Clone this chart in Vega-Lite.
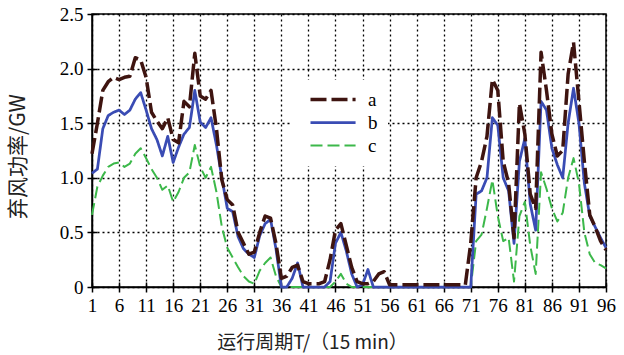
{
  "$schema": "https://vega.github.io/schema/vega-lite/v6.json",
  "width": 514,
  "height": 273,
  "autosize": {"type": "none"},
  "padding": {"left": 92, "top": 14, "right": 18, "bottom": 68},
  "background": "white",
  "config": {
    "view": {"stroke": "black", "strokeWidth": 1.5},
    "axis": {
      "labelFont": "Liberation Serif",
      "labelFontSize": 19,
      "labelColor": "black",
      "tickColor": "black",
      "tickWidth": 1.5,
      "domainColor": "black",
      "domainWidth": 1.5,
      "gridColor": "black",
      "gridDash": [2, 3],
      "gridWidth": 1.3,
      "gridOpacity": 1,
      "titleFont": "Noto Sans CJK SC",
      "titleFontWeight": "normal",
      "titleColor": "#222"
    }
  },
  "data": {"values": [
    {"t":1,"a":1.22,"b":1.04,"c":0.66},{"t":2,"a":1.50,"b":1.08,"c":0.92},{"t":3,"a":1.80,"b":1.45,"c":1.02},{"t":4,"a":1.88,"b":1.57,"c":1.10},
    {"t":5,"a":1.92,"b":1.60,"c":1.13},{"t":6,"a":1.90,"b":1.62,"c":1.14},{"t":7,"a":1.92,"b":1.58,"c":1.10},{"t":8,"a":1.93,"b":1.62,"c":1.13},
    {"t":9,"a":2.10,"b":1.72,"c":1.22},{"t":10,"a":2.08,"b":1.78,"c":1.27},{"t":11,"a":1.92,"b":1.62,"c":1.18},{"t":12,"a":1.60,"b":1.45,"c":1.08},
    {"t":13,"a":1.52,"b":1.35,"c":1.00},{"t":14,"a":1.45,"b":1.20,"c":0.89},{"t":15,"a":1.55,"b":1.38,"c":0.93},{"t":16,"a":1.35,"b":1.14,"c":0.78},
    {"t":17,"a":1.32,"b":1.28,"c":0.87},{"t":18,"a":1.70,"b":1.40,"c":1.00},{"t":19,"a":1.65,"b":1.46,"c":1.05},{"t":20,"a":2.14,"b":1.80,"c":1.30},
    {"t":21,"a":1.75,"b":1.51,"c":1.10},{"t":22,"a":1.72,"b":1.46,"c":1.00},{"t":23,"a":1.80,"b":1.55,"c":1.10},{"t":24,"a":1.45,"b":1.30,"c":0.87},
    {"t":25,"a":0.98,"b":1.00,"c":0.55},{"t":26,"a":0.80,"b":0.72,"c":0.36},{"t":27,"a":0.75,"b":0.69,"c":0.27},{"t":28,"a":0.50,"b":0.46,"c":0.18},
    {"t":29,"a":0.40,"b":0.35,"c":0.10},{"t":30,"a":0.30,"b":0.30,"c":0.05},{"t":31,"a":0.32,"b":0.27,"c":0.03},{"t":32,"a":0.50,"b":0.47,"c":0.15},
    {"t":33,"a":0.65,"b":0.58,"c":0.22},{"t":34,"a":0.63,"b":0.62,"c":0.27},{"t":35,"a":0.40,"b":0.35,"c":0.10},{"t":36,"a":0.08,"b":0,"c":0},
    {"t":37,"a":0.10,"b":0,"c":0},{"t":38,"a":0.18,"b":0.08,"c":0},{"t":39,"a":0.20,"b":0.22,"c":0},{"t":40,"a":0.05,"b":0,"c":0},
    {"t":41,"a":0.03,"b":0,"c":0},{"t":42,"a":0.03,"b":0,"c":0},{"t":43,"a":0.03,"b":0,"c":0},{"t":44,"a":0.05,"b":0,"c":0},
    {"t":45,"a":0.25,"b":0.05,"c":0},{"t":46,"a":0.52,"b":0.40,"c":0.05},{"t":47,"a":0.58,"b":0.50,"c":0.12},{"t":48,"a":0.38,"b":0.33,"c":0.03},
    {"t":49,"a":0.18,"b":0.12,"c":0},{"t":50,"a":0.05,"b":0,"c":0},{"t":51,"a":0.03,"b":0.02,"c":0},{"t":52,"a":0.03,"b":0.16,"c":0},
    {"t":53,"a":0.05,"b":0,"c":0},{"t":54,"a":0.12,"b":0,"c":0},{"t":55,"a":0.14,"b":0,"c":0},{"t":56,"a":0.02,"b":0,"c":0},
    {"t":57,"a":0.02,"b":0,"c":0},{"t":58,"a":0.02,"b":0,"c":0},{"t":59,"a":0.02,"b":0,"c":0},{"t":60,"a":0.02,"b":0,"c":0},
    {"t":61,"a":0.02,"b":0,"c":0},{"t":62,"a":0.02,"b":0,"c":0},{"t":63,"a":0.02,"b":0,"c":0},{"t":64,"a":0.02,"b":0,"c":0},
    {"t":65,"a":0.02,"b":0,"c":0},{"t":66,"a":0.02,"b":0,"c":0},{"t":67,"a":0.02,"b":0,"c":0},{"t":68,"a":0.02,"b":0,"c":0},
    {"t":69,"a":0.02,"b":0,"c":0},{"t":70,"a":0.02,"b":0,"c":0},{"t":71,"a":0.40,"b":0,"c":0},{"t":72,"a":1.00,"b":0.85,"c":0.42},
    {"t":73,"a":1.15,"b":0.88,"c":0.48},{"t":74,"a":1.38,"b":1.00,"c":0.72},{"t":75,"a":1.90,"b":1.55,"c":0.98},{"t":76,"a":1.80,"b":1.48,"c":0.65},
    {"t":77,"a":1.15,"b":1.00,"c":0.42},{"t":78,"a":0.95,"b":0.88,"c":0.45},{"t":79,"a":0.45,"b":0.40,"c":0.05},{"t":80,"a":1.68,"b":1.15,"c":0.65},
    {"t":81,"a":1.40,"b":1.36,"c":0.78},{"t":82,"a":0.85,"b":0.76,"c":0.38},{"t":83,"a":0.72,"b":0.52,"c":0.12},{"t":84,"a":2.15,"b":1.70,"c":1.05},
    {"t":85,"a":1.80,"b":1.62,"c":0.90},{"t":86,"a":1.40,"b":1.27,"c":0.72},{"t":87,"a":1.20,"b":1.12,"c":0.60},{"t":88,"a":1.25,"b":1.00,"c":0.68},
    {"t":89,"a":1.95,"b":1.50,"c":1.00},{"t":90,"a":2.24,"b":1.82,"c":1.18},{"t":91,"a":1.70,"b":1.50,"c":0.95},{"t":92,"a":1.15,"b":0.95,"c":0.50},
    {"t":93,"a":0.66,"b":0.65,"c":0.30},{"t":94,"a":0.55,"b":0.55,"c":0.22},{"t":95,"a":0.42,"b":0.45,"c":0.20},{"t":96,"a":0.34,"b":0.36,"c":0.17}
  ]},
  "transform": [{"fold": ["c", "b", "a"], "as": ["series", "value"]}],
  "resolve": {"axis": {"x": "independent", "y": "independent"}},
  "layer": [
    {
      "mark": {"type": "line", "strokeCap": "butt", "opacity": 0},
      "encoding": {
        "x": {"field": "t", "type": "quantitative", "scale": {"domain": [1, 96], "nice": false, "zero": false},
              "axis": {"orient": "bottom", "values": [1,6,11,16,21,26,31,36,41,46,51,56,61,66,71,76,81,86,91,96], "tickSize": -5, "labels": false, "domain": false, "grid": false, "title": null}},
        "y": {"field": "value", "type": "quantitative", "scale": {"domain": [0, 2.5], "nice": false},
              "axis": {"orient": "left", "values": [0, 0.5, 1, 1.5, 2, 2.5], "tickSize": -5, "labels": false, "domain": false, "grid": false, "title": null}},
        "detail": {"field": "series"}
      }
    },
    {
      "mark": {"type": "line", "strokeCap": "butt", "strokeJoin": "round"},
      "encoding": {
        "x": {"field": "t", "type": "quantitative", "scale": {"domain": [1, 96], "nice": false, "zero": false},
              "axis": {"orient": "bottom", "values": [1,6,11,16,21,26,31,36,41,46,51,56,61,66,71,76,81,86,91,96], "tickSize": 5, "labelPadding": 4, "labelFont": "Liberation Serif", "labelFontSize": 19, "grid": true, "title": "运行周期T/（15 min）", "titleFontSize": 19, "titleX": 220, "titleY": 55, "titleAlign": "center", "titleBaseline": "middle", "labelFlush": false}},
        "y": {"field": "value", "type": "quantitative", "scale": {"domain": [0, 2.5], "nice": false},
              "axis": {"orient": "left", "values": [0, 0.5, 1, 1.5, 2, 2.5], "tickSize": 5, "labelPadding": 4, "labelFont": "Liberation Serif", "labelFontSize": 19, "grid": true, "labelExpr": "datum.value == 0 ? '0' : format(datum.value, '.1f')", "title": "弃风功率/GW", "titleFontSize": 21, "titleX": -74, "titleY": 142, "titleAlign": "center", "titleBaseline": "middle", "titleAngle": 270}},
        "color": {"field": "series", "type": "nominal", "title": null,
                  "scale": {"domain": ["a", "b", "c"], "range": ["#3e1410", "#3a4cb4", "#3cb84a"]},
                  "legend": {"orient": "none", "legendX": 199, "legendY": 66, "padding": 10, "fillColor": "white", "symbolType": "M0,0H8", "symbolSize": 127, "labelFont": "Liberation Serif", "labelFontSize": 19, "labelColor": "black", "labelOffset": 48, "rowPadding": 3}},
        "strokeDash": {"field": "series", "type": "nominal", "title": null,
                       "scale": {"domain": ["a", "b", "c"], "range": [[16, 5], [1, 0], [12, 5]]}},
        "strokeWidth": {"field": "series", "type": "nominal", "title": null,
                        "scale": {"domain": ["a", "b", "c"], "range": [3.5, 2, 2]}}
      }
    }
  ]
}
